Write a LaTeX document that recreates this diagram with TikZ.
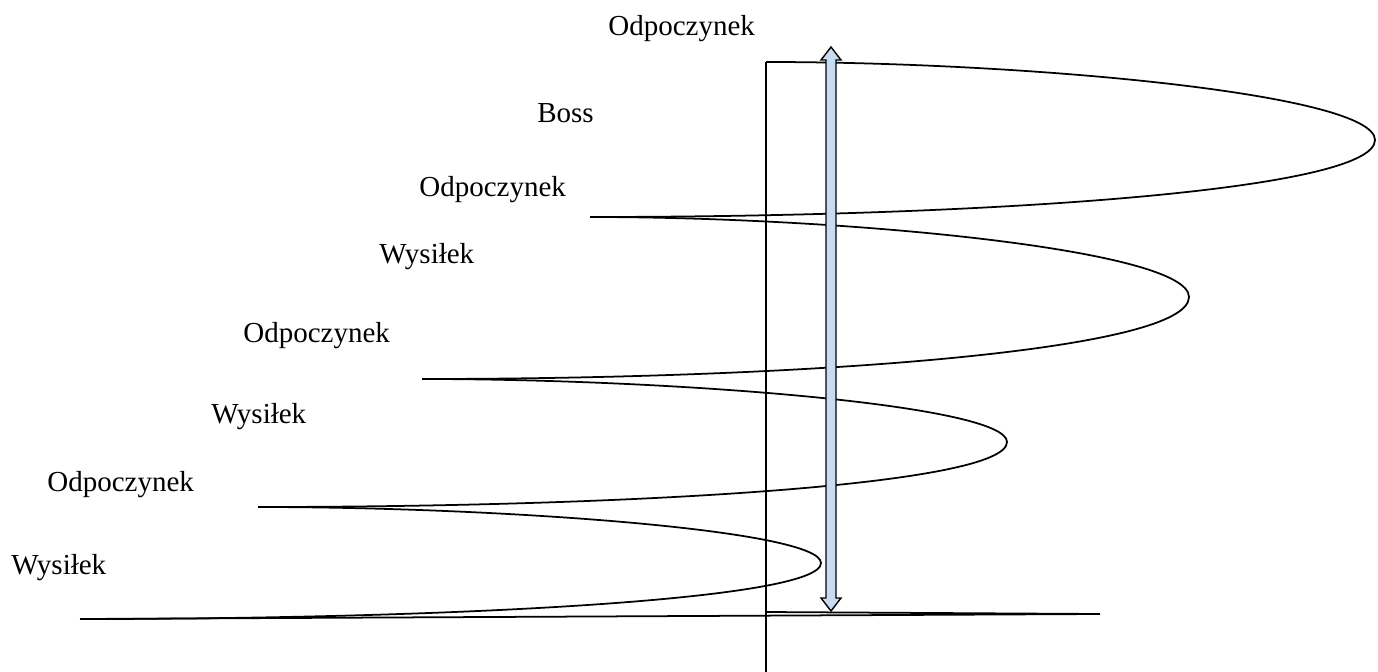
\documentclass[tikz,border=0pt]{standalone}
\usepackage{fontspec}
\setmainfont{Liberation Serif}
\definecolor{shaftblue}{RGB}{200,219,241}
\tikzset{
    spiral diagram/.style={
            x=0.02cm,y=-0.02cm,
            phase/.style={anchor=base west,inner sep=0pt,font=\fontsize{16.5}{20}\selectfont},
            wave/.style={line width=1pt},
            axis/.style={line width=0.75pt},
            bigarrow/.style={draw,line width=0.8pt,fill=shaftblue,line join=miter}
        }
    }

\begin{document}
\begin{tikzpicture}[spiral diagram]
    \useasboundingbox (0,0) rectangle (1378,672);
    \node (odp0) [phase] at (608,36) {Odpoczynek};
    \node (boss) [phase] at (537,123) {Boss};
    \node (odp1) [phase] at (419,196) {Odpoczynek};
    \node (wys1) [phase] at (379,263) {Wysiłek};
    \node (odp2) [phase] at (243,342) {Odpoczynek};
    \node (wys2) [phase] at (211,423) {Wysiłek};
    \node (odp3) [phase] at (47,491) {Odpoczynek};
    \node (wys3) [phase] at (11,574) {Wysiłek};
    \coordinate (e0) at (80,619);
    \coordinate (e1) at (258,507);
    \coordinate (e2) at (422,379);
    \coordinate (e3) at (590,217);
    \coordinate (e4) at (766,62);
    \coordinate (t0) at (1100,614);
    \coordinate (t1) at (821,563);
    \coordinate (t2) at (1007,442);
    \coordinate (t3) at (1189,297);
    \coordinate (t4) at (1375,140);
    \coordinate (base) at (766,612);
    \coordinate (foot) at (766,672);
    \draw [wave] (e0) -- (t0) -- (base);
    \draw [wave] (e0) .. controls (450,619) and (821,600) .. (t1)
                      .. controls (821,530) and (500,507) .. (e1);
    \draw [wave] (e1) .. controls (632,507) and (1007,485) .. (t2)
                      .. controls (1007,405) and (673,379) .. (e2);
    \draw [wave] (e2) .. controls (805,379) and (1189,351) .. (t3)
                      .. controls (1189,250) and (848,217) .. (e3);
    \draw [wave] (e3) .. controls (982,217) and (1375,191) .. (t4)
                      .. controls (1375,94) and (1028,62) .. (e4);
    \draw [axis] (e4) -- (base);
    \draw [line width=1.4pt] (base) -- (foot);
    \draw [bigarrow] (831,47) -- (841,60) -- (836,60) -- (836,598) -- (841,598)
        -- (831,611) -- (821,598) -- (826,598) -- (826,60) -- (821,60) -- cycle;
\end{tikzpicture}
\end{document}
